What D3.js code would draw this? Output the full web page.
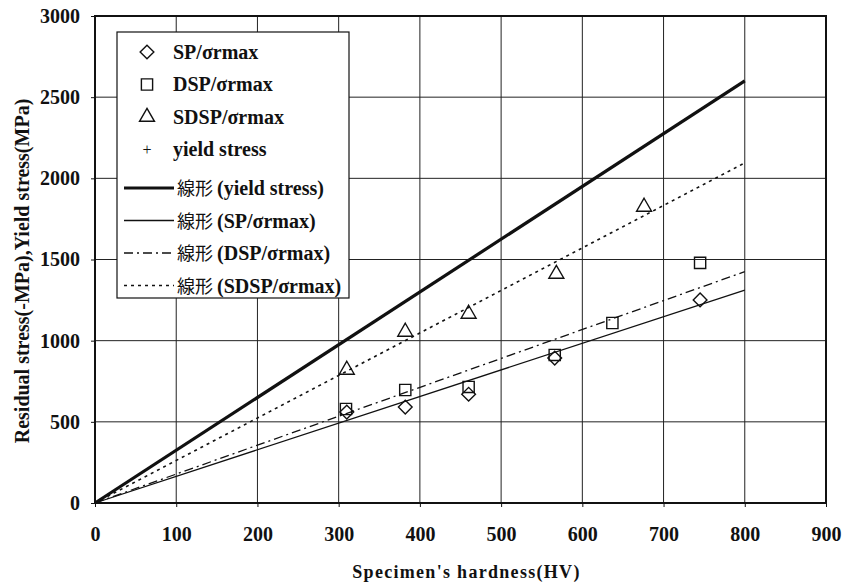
<!DOCTYPE html>
<html>
<head>
<meta charset="utf-8">
<script src="https://cdn.jsdelivr.net/npm/d3@7/dist/d3.min.js"></script>
<style>
  body { margin: 0; background: #fff; }
  text { font-family: "Liberation Serif", "Times New Roman", serif; font-weight: bold; fill: #111; }
  .jp { font-family: "Noto Sans CJK JP", "Noto Sans CJK SC", sans-serif; font-weight: normal; }
</style>
</head>
<body>
<div id="chart"></div>
<script>
// measured points (HV, stress MPa)
const spHV = [310, 382, 460, 566, 745];
const spVal = [560, 591, 670, 893, 1251];
const dspHV = [309, 382, 460, 566, 637, 745];
const dspVal = [579, 696, 715, 912, 1109, 1479];
const sdspHV = [310, 382, 460, 568, 676];
const sdspVal = [820, 1054, 1165, 1411, 1824];

// trend lines (線形), start and end points
const trendHV = [0, 800];
const yieldTrend = [0, 2600];
const spTrend = [0, 1312];
const dspTrend = [0, 1425];
const sdspTrend = [0, 2095];

const xTicks = [0, 100, 200, 300, 400, 500, 600, 700, 800, 900];
const yTicks = [0, 500, 1000, 1500, 2000, 2500, 3000];

const width = 847, height = 586;
const margin = {left: 95, right: 21, top: 16, bottom: 83};

const svg = d3.select("#chart").append("svg")
    .attr("width", width).attr("height", height);

const x = d3.scaleLinear().domain([0, 900]).range([margin.left, width - margin.right]);
const y = d3.scaleLinear().domain([0, 3000]).range([height - margin.bottom, margin.top]);

// grid
svg.append("g").selectAll("line").data(xTicks).join("line")
    .attr("x1", d => x(d)).attr("x2", d => x(d))
    .attr("y1", y(0)).attr("y2", y(3000))
    .attr("stroke", "#222").attr("stroke-width", 1);
svg.append("g").selectAll("line").data(yTicks).join("line")
    .attr("x1", x(0)).attr("x2", x(900))
    .attr("y1", d => y(d)).attr("y2", d => y(d))
    .attr("stroke", "#222").attr("stroke-width", 1);

// axes
const xAxis = svg.append("g")
    .attr("transform", `translate(0,${y(0)})`)
    .call(d3.axisBottom(x).tickValues(xTicks).tickSize(4).tickPadding(20).tickFormat(d3.format("d")));
const yAxis = svg.append("g")
    .attr("transform", `translate(${x(0)},0)`)
    .call(d3.axisLeft(y).tickValues(yTicks).tickSize(4).tickPadding(11).tickFormat(d3.format("d")));
[xAxis, yAxis].forEach(g => {
    g.select(".domain").remove();
    g.selectAll("line").attr("stroke", "#111");
    g.selectAll("text").style("font-size", "20px").style("font-family", "Liberation Serif").style("font-weight", "bold");
});

// plot border
svg.append("rect")
    .attr("x", x(0)).attr("y", y(3000))
    .attr("width", x(900) - x(0)).attr("height", y(0) - y(3000))
    .attr("fill", "none").attr("stroke", "#111").attr("stroke-width", 2);

// trend lines
const trends = [
    {vals: yieldTrend, width: 3.2, dash: null},
    {vals: spTrend, width: 1.3, dash: null},
    {vals: dspTrend, width: 1.3, dash: "9,4,2,4"},
    {vals: sdspTrend, width: 1.6, dash: "3,4"}
];
const line = d3.line().x(d => x(d[0])).y(d => y(d[1]));
trends.forEach(t => {
    svg.append("path")
        .attr("d", line(trendHV.map((h, i) => [h, t.vals[i]])))
        .attr("fill", "none").attr("stroke", "#111")
        .attr("stroke-width", t.width)
        .attr("stroke-dasharray", t.dash);
});

// markers
const diamond = d3.symbol().type(d3.symbolDiamond2).size(120);
const square = d3.symbol().type(d3.symbolSquare2).size(160);
const triangle = d3.symbol().type(d3.symbolTriangle2).size(160);

function drawMarkers(hv, vals, sym) {
    svg.append("g").selectAll("path").data(hv).join("path")
        .attr("transform", (d, i) => `translate(${x(d)},${y(vals[i])})`)
        .attr("d", sym)
        .attr("fill", "none").attr("stroke", "#111").attr("stroke-width", 1.4);
}
drawMarkers(spHV, spVal, diamond);
drawMarkers(dspHV, dspVal, square);
drawMarkers(sdspHV, sdspVal, triangle);

// legend
const legend = svg.append("g");
legend.append("rect")
    .attr("x", 117).attr("y", 32).attr("width", 232).attr("height", 266)
    .attr("fill", "#fff").attr("stroke", "#111").attr("stroke-width", 1.2);

const legendRows = [
    {label: "SP/σrmax", sym: diamond},
    {label: "DSP/σrmax", sym: square},
    {label: "SDSP/σrmax", sym: triangle},
    {label: "yield stress", sym: null}
];
legendRows.forEach((r, i) => {
    const cy = 52 + i * 32.5;
    if (r.sym) {
        legend.append("path").attr("transform", `translate(147,${cy})`)
            .attr("d", r.sym).attr("fill", "none").attr("stroke", "#111").attr("stroke-width", 1.4);
    } else {
        legend.append("text").attr("x", 147).attr("y", cy + 5).attr("text-anchor", "middle")
            .style("font-size", "16px").style("font-weight", "normal").text("+");
    }
    legend.append("text").attr("x", 173).attr("y", cy + 6.5)
        .style("font-size", "20px").text(r.label);
});

const trendLabels = ["(yield stress)", "(SP/σrmax)", "(DSP/σrmax)", "(SDSP/σrmax)"];
trends.forEach((t, i) => {
    const cy = 188 + i * 32.5;
    legend.append("line").attr("x1", 124).attr("x2", 174).attr("y1", cy).attr("y2", cy)
        .attr("stroke", "#111").attr("stroke-width", t.width).attr("stroke-dasharray", t.dash);
    const tx = legend.append("text").attr("x", 177).attr("y", cy + 7).style("font-size", "20px");
    tx.append("tspan").attr("class", "jp").style("font-size", "18px").text("線形 ");
    tx.append("tspan").text(trendLabels[i]);
});

// axis titles
svg.append("text")
    .attr("x", x(450) + 6).attr("y", 578).attr("text-anchor", "middle")
    .style("font-size", "18px").style("letter-spacing", "1.3px")
    .text("Specimen's hardness(HV)");
svg.append("text")
    .attr("transform", `translate(29,271) rotate(-90)`)
    .attr("text-anchor", "middle")
    .style("font-size", "20px").text("Residual stress(-MPa),Yield stress(MPa)");
</script>
</body>
</html>
